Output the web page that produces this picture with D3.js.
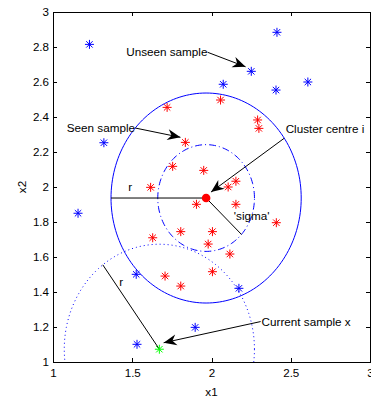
<!DOCTYPE html>
<html><head><meta charset="utf-8">
<script src="https://cdn.jsdelivr.net/npm/d3@7"></script>
<style>body{margin:0;background:#fff}svg{display:block}text{font-family:"Liberation Sans",Arial,sans-serif}</style>
</head><body><svg id="c" width="371" height="400"></svg>
<script>
// ---- data ----
const unseenX = [1.230,1.321,2.413,2.251,2.074,2.407,2.608,1.158,1.525,1.530,2.173,1.897];
const unseenY = [2.815,2.253,2.884,2.661,2.587,2.554,2.600,1.850,1.501,1.101,1.421,1.198];
const seenX = [1.720,2.057,2.291,2.299,1.835,1.755,1.951,2.154,2.105,1.616,1.905,2.154,2.409,1.806,2.006,1.629,1.979,2.116,2.006,1.707,1.806];
const seenY = [2.455,2.497,2.383,2.335,2.255,2.118,2.095,2.033,2.000,1.998,1.901,1.901,1.796,1.745,1.745,1.710,1.674,1.617,1.516,1.491,1.434];
const centre = [1.966,1.937];
const current = [1.671,1.073];
const radiusR = 0.6;
const sigma = 0.305;
const xTicks = [1,1.5,2,2.5,3];
const yTicks = [1,1.2,1.4,1.6,1.8,2,2.2,2.4,2.6,2.8,3];
const annotations = [
  {text:"Unseen sample", tx:1.462, ty:2.770, x0:1.975, y0:2.770, x1:2.215, y1:2.687, arrow:true},
  {text:"Seen sample", tx:1.087, ty:2.335, x0:1.519, y0:2.337, x1:1.804, y1:2.284, arrow:true},
  {text:"Cluster centre i", tx:2.468, ty:2.331, x0:2.458, y0:2.278, x1:1.997, y1:1.971, arrow:true},
  {text:"Current sample x", tx:2.316, ty:1.230, x0:2.310, y0:1.231, x1:1.698, y1:1.110, arrow:true}
];
const labels = [
  {text:"'sigma'", tx:2.141, ty:1.836},
  {text:"r", tx:1.475, ty:2.0},
  {text:"r", tx:1.418, ty:1.459}
];

// ---- layout ----
const L=53, R=370, T=12, B=362;
const svg = d3.select("#c");
const x = d3.scaleLinear().domain([1,3]).range([L,R]);
const y = d3.scaleLinear().domain([1,3]).range([B,T]);

svg.append("defs").append("clipPath").attr("id","clip")
  .append("rect").attr("x",L).attr("y",T).attr("width",R-L).attr("height",B-T);
const g = svg.append("g").attr("clip-path","url(#clip)");

function circlePath(cx,cy,r){
  const pts = d3.range(0,361,2).map(a=>[x(cx+r*Math.cos(a*Math.PI/180)), y(cy+r*Math.sin(a*Math.PI/180))]);
  return d3.line()(pts);
}
g.append("path").attr("d",circlePath(centre[0],centre[1],radiusR)).attr("fill","none").attr("stroke","#0000ff").attr("stroke-width",1);
g.append("path").attr("d",circlePath(centre[0],centre[1],sigma)).attr("fill","none").attr("stroke","#0000ff").attr("stroke-width",1).attr("stroke-dasharray","7,3,1,3");
g.append("path").attr("d",circlePath(current[0],current[1],radiusR)).attr("fill","none").attr("stroke","#0000ff").attr("stroke-width",1).attr("stroke-dasharray","1,3");

// radius lines
g.append("line").attr("x1",x(centre[0])).attr("y1",y(centre[1])).attr("x2",x(centre[0]-radiusR)).attr("y2",y(centre[1])).attr("stroke","#000");
const sa = -43*Math.PI/180;
g.append("line").attr("x1",x(centre[0])).attr("y1",y(centre[1])).attr("x2",x(centre[0]+sigma*Math.cos(sa))).attr("y2",y(centre[1]+sigma*Math.sin(sa))).attr("stroke","#000");
const ra = 126.5*Math.PI/180;
g.append("line").attr("x1",x(current[0])).attr("y1",y(current[1])).attr("x2",x(current[0]+radiusR*Math.cos(ra))).attr("y2",y(current[1]+radiusR*Math.sin(ra))).attr("stroke","#000");

// markers
function star(px,py,col){
  const s=4.5,d=3.2;
  g.append("path").attr("d",`M${px-s},${py}H${px+s}M${px},${py-s}V${py+s}M${px-d},${py-d}L${px+d},${py+d}M${px-d},${py+d}L${px+d},${py-d}`)
   .attr("stroke",col).attr("stroke-width",1).attr("fill","none");
}
unseenX.forEach((v,i)=>star(x(v),y(unseenY[i]),"#0000ff"));
seenX.forEach((v,i)=>star(x(v),y(seenY[i]),"#ff0000"));
star(x(current[0]),y(current[1]),"#00ff00");
g.append("circle").attr("cx",x(centre[0])).attr("cy",y(centre[1])).attr("r",4.3).attr("fill","#ff0000");

// annotations
annotations.forEach(a=>{
  const X0=x(a.x0),Y0=y(a.y0),X1=x(a.x1),Y1=y(a.y1);
  svg.append("line").attr("x1",X0).attr("y1",Y0).attr("x2",X1).attr("y2",Y1).attr("stroke","#000").attr("stroke-width",1);
  if(a.arrow){
    const ang=Math.atan2(Y1-Y0,X1-X0), len=13, w=5.5, notch=9;
    const ux=Math.cos(ang), uy=Math.sin(ang), nx=-uy, ny=ux;
    const p=[[X1,Y1],[X1-len*ux+w*nx,Y1-len*uy+w*ny],[X1-notch*ux,Y1-notch*uy],[X1-len*ux-w*nx,Y1-len*uy-w*ny]];
    svg.append("path").attr("d","M"+p.map(q=>q.join(",")).join("L")+"Z").attr("fill","#000");
  }
  svg.append("text").attr("x",x(a.tx)).attr("y",y(a.ty)).attr("dy","0.35em").attr("font-size","11.7px").text(a.text);
});
labels.forEach(a=>{
  svg.append("text").attr("x",x(a.tx)).attr("y",y(a.ty)).attr("dy","0.35em").attr("font-size","11.7px").text(a.text);
});

// axes
const ax = svg.append("g");
ax.append("rect").attr("x",L).attr("y",T).attr("width",R-L).attr("height",B-T).attr("fill","none").attr("stroke","#000").attr("stroke-width",1).attr("shape-rendering","crispEdges");
const axB = d3.axisBottom(x).tickValues(xTicks).tickSize(-4).tickPadding(7).tickFormat(d3.format("~g"));
const axT = d3.axisTop(x).tickValues(xTicks).tickSize(-4).tickFormat("");
const axL = d3.axisLeft(y).tickValues(yTicks).tickSize(-4).tickPadding(4).tickFormat(d3.format("~g"));
const axR = d3.axisRight(y).tickValues(yTicks).tickSize(-4).tickFormat("");
[[axB,`translate(0,${B})`],[axT,`translate(0,${T})`],[axL,`translate(${L},0)`],[axR,`translate(${R},0)`]].forEach(([a,t])=>{
  const gg=ax.append("g").attr("transform",t).call(a);
  gg.select(".domain").remove();
  gg.selectAll("text").attr("font-size","11.6px").attr("fill","#000").attr("font-family","Liberation Sans, Arial, sans-serif");
  gg.selectAll("line").attr("shape-rendering","crispEdges");
});
svg.append("text").attr("x",(L+R)/2).attr("y",396).attr("text-anchor","middle").attr("font-size","11.7px").text("x1");
svg.append("text").attr("transform",`translate(25.5,${(T+B)/2}) rotate(-90)`).attr("text-anchor","middle").attr("font-size","11.7px").text("x2");
</script></body></html>
